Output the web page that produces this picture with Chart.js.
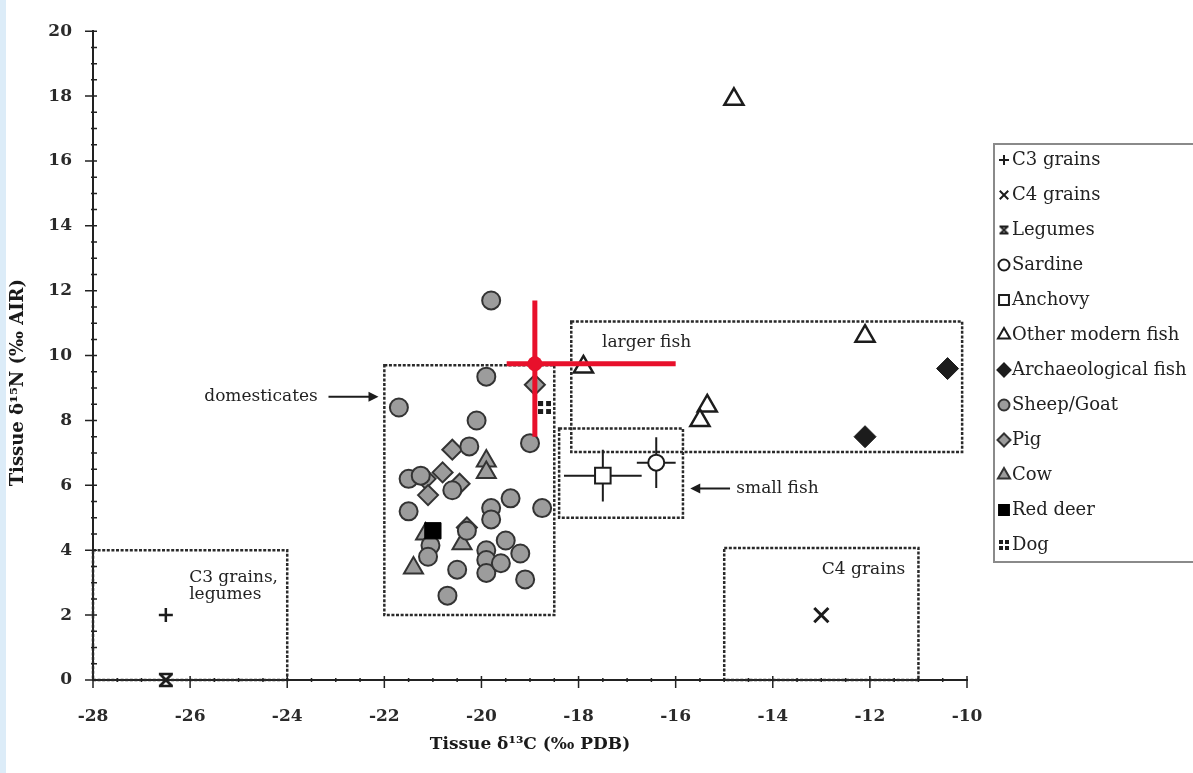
<!DOCTYPE html>
<html>
<head>
<meta charset="utf-8">
<script src="https://cdn.jsdelivr.net/npm/chart.js"></script>
<style>
  html, body { margin: 0; padding: 0; background: #fff; }
  #strip { position: absolute; left: 0; top: 0; width: 6px; height: 773px; background: #dcecf8; }
  #wrap { position: absolute; left: 0; top: 0; width: 1193px; height: 773px; }
</style>
</head>
<body>
<div id="wrap"><canvas id="c" width="1193" height="773"></canvas></div>
<div id="strip"></div>
<script>
// series names (legend order)
const seriesNames = ['C3 grains', 'C4 grains', 'Legumes', 'Sardine', 'Anchovy', 'Other modern fish',
  'Archaeological fish', 'Sheep/Goat', 'Pig', 'Cow', 'Red deer', 'Dog'];

// values: d13C (x), d15N (y)
const c3X = [-26.5], c3Y = [2.0];
const c4X = [-13.0], c4Y = [2.0];
const legX = [-26.5], legY = [0.0];
const sardineX = [-16.4], sardineY = [6.7], sardineXErr = [0.4], sardineYErr = [0.78];
const anchovyX = [-17.5], anchovyY = [6.3], anchovyXErr = [0.8], anchovyYErr = [0.8];
const otherFishX = [-14.8, -17.9, -12.1, -15.35, -15.5];
const otherFishY = [17.9, 9.65, 10.6, 8.45, 8.0];
const archFishX = [-10.4, -12.1];
const archFishY = [9.6, 7.5];
const sheepX = [-19.8, -19.9, -21.7, -20.1, -20.25, -19.0, -21.5, -21.5, -19.4, -19.8, -19.8, -18.75,
  -21.05, -21.1, -20.5, -20.7, -19.9, -19.9, -19.9, -19.5, -19.6, -19.2, -19.1, -20.3, -21.25, -20.6];
const sheepY = [11.7, 9.35, 8.4, 8.0, 7.2, 7.3, 6.2, 5.2, 5.6, 5.3, 4.95, 5.3,
  4.15, 3.8, 3.4, 2.6, 4.0, 3.7, 3.3, 4.3, 3.6, 3.9, 3.1, 4.6, 6.3, 5.85];
const pigX = [-18.9, -20.6, -21.15, -20.8, -21.1, -20.45, -20.3];
const pigY = [9.1, 7.1, 6.2, 6.4, 5.7, 6.05, 4.7];
const cowX = [-19.9, -19.9, -21.4, -20.4, -21.15];
const cowY = [6.75, 6.4, 3.45, 4.2, 4.5];
const deerX = [-21.0], deerY = [4.6];
const dogX = [-18.7], dogY = [8.4];

// red overlay (mean with range)
const redX = [-18.9], redY = [9.75];
const redXRange = [-19.48, -16.0], redYRange = [7.5, 11.7];

// dashed regions: [xMin, xMax, yMin, yMax]
const regionBounds = [[-28, -24, 0, 4], [-22, -18.5, 2, 9.7], [-18.15, -10.1, 7.03, 11.05],
  [-18.4, -15.85, 5, 7.75], [-15, -11, 0, 4.07]];

// axis ticks
const xTicks = [-28, -26, -24, -22, -20, -18, -16, -14, -12, -10];
const yTicks = [0, 2, 4, 6, 8, 10, 12, 14, 16, 18, 20];

const INK = '#1c1c1c';
const GREY = '#9c9c9c';
const SERIF = '"DejaVu Serif", serif';

function pts(xs, ys) { return xs.map((x, i) => ({x: x, y: ys[i]})); }

function legumesMark(s) {
  const c = document.createElement('canvas');
  c.width = s; c.height = s;
  const g = c.getContext('2d');
  g.strokeStyle = INK; g.lineWidth = Math.max(2, s / 6);
  g.beginPath();
  g.moveTo(2, 2); g.lineTo(s - 2, s - 2);
  g.moveTo(s - 2, 2); g.lineTo(2, s - 2);
  g.moveTo(1, 2); g.lineTo(s - 1, 2);
  g.moveTo(1, s - 2); g.lineTo(s - 1, s - 2);
  g.stroke();
  return c;
}

function dogMark(s) {
  const c = document.createElement('canvas');
  c.width = s; c.height = s;
  const g = c.getContext('2d');
  g.fillStyle = INK;
  const q = Math.round(s * 0.42);
  g.fillRect(0, 0, q, q); g.fillRect(s - q, 0, q, q);
  g.fillRect(0, s - q, q, q); g.fillRect(s - q, s - q, q, q);
  return c;
}

const legumesBig = legumesMark(16), legumesSmall = legumesMark(11);
const dogBig = dogMark(13), dogSmall = dogMark(10);

const datasets = [
  {label: seriesNames[0], data: pts(c3X, c3Y), pointStyle: 'cross', pointRadius: 7, borderColor: INK, borderWidth: 2.5},
  {label: seriesNames[1], data: pts(c4X, c4Y), pointStyle: 'crossRot', pointRadius: 10, borderColor: INK, borderWidth: 3},
  {label: seriesNames[2], data: pts(legX, legY), pointStyle: legumesBig, pointRadius: 8, borderColor: INK, borderWidth: 2},
  {label: seriesNames[3], data: pts(sardineX, sardineY), pointStyle: 'circle', pointRadius: 8, backgroundColor: '#fff', borderColor: INK, borderWidth: 2},
  {label: seriesNames[4], data: pts(anchovyX, anchovyY), pointStyle: 'rect', pointRadius: 11, backgroundColor: '#fff', borderColor: INK, borderWidth: 2},
  {label: seriesNames[5], data: pts(otherFishX, otherFishY), pointStyle: 'triangle', pointRadius: 11, backgroundColor: '#fff', borderColor: INK, borderWidth: 2.5},
  {label: seriesNames[6], data: pts(archFishX, archFishY), pointStyle: 'rectRot', pointRadius: 11, backgroundColor: INK, borderColor: INK, borderWidth: 1},
  {label: seriesNames[7], data: pts(sheepX, sheepY), pointStyle: 'circle', pointRadius: 9, backgroundColor: GREY, borderColor: '#333', borderWidth: 2},
  {label: seriesNames[8], data: pts(pigX, pigY), pointStyle: 'rectRot', pointRadius: 10, backgroundColor: GREY, borderColor: '#333', borderWidth: 2},
  {label: seriesNames[9], data: pts(cowX, cowY), pointStyle: 'triangle', pointRadius: 11, backgroundColor: GREY, borderColor: '#333', borderWidth: 2},
  {label: seriesNames[10], data: pts(deerX, deerY), pointStyle: 'rect', pointRadius: 11.5, backgroundColor: '#000', borderColor: '#000', borderWidth: 1, order: -1},
  {label: seriesNames[11], data: pts(dogX, dogY), pointStyle: dogBig, pointRadius: 7, borderColor: INK, borderWidth: 1, order: -1}
];
datasets.forEach(d => { d.pointHoverRadius = d.pointRadius; d.showLine = false; d.clip = false; });

const legendMarks = {2: legumesSmall, 11: dogSmall};

function dashedRect(ctx, x0, y0, x1, y1) {
  ctx.save();
  ctx.strokeStyle = '#2a2a2a';
  ctx.lineWidth = 2.5;
  ctx.setLineDash([3, 1.6]);
  ctx.strokeRect(x0, y0, x1 - x0, y1 - y0);
  ctx.restore();
}

function arrow(ctx, x0, y, x1) {
  const dir = Math.sign(x1 - x0);
  ctx.save();
  ctx.strokeStyle = INK; ctx.fillStyle = INK; ctx.lineWidth = 2;
  ctx.beginPath(); ctx.moveTo(x0, y); ctx.lineTo(x1 - dir * 4, y); ctx.stroke();
  ctx.beginPath(); ctx.moveTo(x1, y); ctx.lineTo(x1 - dir * 10, y - 5); ctx.lineTo(x1 - dir * 10, y + 5); ctx.closePath(); ctx.fill();
  ctx.restore();
}

const notesPlugin = {
  id: 'notes',
  beforeDatasetsDraw(chart) {
    const ctx = chart.ctx, xs = chart.scales.x, ys = chart.scales.y;
    regionBounds.forEach(b => {
      dashedRect(ctx, xs.getPixelForValue(b[0]), ys.getPixelForValue(b[3]),
        xs.getPixelForValue(b[1]), ys.getPixelForValue(b[2]));
    });
    ctx.save();
    ctx.fillStyle = '#222';
    ctx.font = '17px ' + SERIF;
    ctx.textBaseline = 'middle';
    ctx.textAlign = 'right';
    ctx.fillText('domesticates', xs.getPixelForValue(-23.37), ys.getPixelForValue(8.73));
    ctx.textAlign = 'center';
    ctx.fillText('larger fish', xs.getPixelForValue(-16.6), ys.getPixelForValue(10.4));
    ctx.textAlign = 'left';
    ctx.fillText('small fish', xs.getPixelForValue(-14.75), ys.getPixelForValue(5.9));
    ctx.fillText('C3 grains,', xs.getPixelForValue(-26.02), ys.getPixelForValue(3.17));
    ctx.fillText('legumes', xs.getPixelForValue(-26.02), ys.getPixelForValue(2.62));
    ctx.fillText('C4 grains', xs.getPixelForValue(-12.99), ys.getPixelForValue(3.41));
    ctx.restore();
    arrow(ctx, xs.getPixelForValue(-23.15), ys.getPixelForValue(8.73), xs.getPixelForValue(-22.12));
    arrow(ctx, xs.getPixelForValue(-14.88), ys.getPixelForValue(5.9), xs.getPixelForValue(-15.7));

    // error bars for sardine and anchovy
    ctx.save();
    ctx.strokeStyle = INK; ctx.lineWidth = 2;
    [[sardineX, sardineY, sardineXErr, sardineYErr], [anchovyX, anchovyY, anchovyXErr, anchovyYErr]].forEach(s => {
      s[0].forEach((x, i) => {
        const y = s[1][i];
        ctx.beginPath();
        ctx.moveTo(xs.getPixelForValue(x - s[2][i]), ys.getPixelForValue(y));
        ctx.lineTo(xs.getPixelForValue(x + s[2][i]), ys.getPixelForValue(y));
        ctx.moveTo(xs.getPixelForValue(x), ys.getPixelForValue(y - s[3][i]));
        ctx.lineTo(xs.getPixelForValue(x), ys.getPixelForValue(y + s[3][i]));
        ctx.stroke();
      });
    });
    ctx.restore();
  },
  afterDatasetsDraw(chart) {
    const ctx = chart.ctx, xs = chart.scales.x, ys = chart.scales.y;
    ctx.save();
    ctx.strokeStyle = '#e8102b'; ctx.fillStyle = '#e8102b'; ctx.lineWidth = 5;
    const cx = xs.getPixelForValue(redX[0]), cy = ys.getPixelForValue(redY[0]);
    ctx.beginPath();
    ctx.moveTo(xs.getPixelForValue(redXRange[0]), cy); ctx.lineTo(xs.getPixelForValue(redXRange[1]), cy);
    ctx.moveTo(cx, ys.getPixelForValue(redYRange[0])); ctx.lineTo(cx, ys.getPixelForValue(redYRange[1]));
    ctx.stroke();
    ctx.beginPath(); ctx.arc(cx, cy, 7.5, 0, Math.PI * 2); ctx.fill();
    ctx.restore();
  },
  afterDraw(chart) {
    const ctx = chart.ctx, xs = chart.scales.x, ys = chart.scales.y;
    const a = chart.chartArea;
    // tick marks crossing the axes, minor every 0.5
    ctx.save();
    ctx.strokeStyle = '#222'; ctx.lineWidth = 1.5;
    ctx.beginPath();
    for (let v = xs.min; v <= xs.max + 1e-9; v += 0.5) {
      const px = xs.getPixelForValue(v);
      const major = xTicks.includes(v);
      ctx.moveTo(px, a.bottom - (major ? 4 : 2)); ctx.lineTo(px, a.bottom + (major ? 8 : 2));
    }
    for (let v = ys.min; v <= ys.max + 1e-9; v += 0.5) {
      const py = ys.getPixelForValue(v);
      const major = yTicks.includes(v);
      ctx.moveTo(a.left - (major ? 8 : 2), py); ctx.lineTo(a.left + 4, py);
    }
    ctx.stroke();
    ctx.restore();

    // legend box
    ctx.save();
    ctx.strokeStyle = '#8a8a8a'; ctx.lineWidth = 2;
    ctx.strokeRect(994, 144, 220, 418);
    ctx.font = '18px ' + SERIF;
    ctx.textBaseline = 'middle';
    ctx.textAlign = 'left';
    chart.data.datasets.forEach((d, i) => {
      const y = 160 + i * 35.0;
      const mx = 1004;
      ctx.save();
      ctx.fillStyle = d.backgroundColor || INK;
      ctx.strokeStyle = d.borderColor || INK;
      if (legendMarks[i]) {
        const m = legendMarks[i];
        ctx.drawImage(m, mx - m.width / 2, y - m.height / 2);
      } else if (Chart.helpers && Chart.helpers.drawPoint) {
        const r = {cross: 5, crossRot: 6, rect: 7, rectRot: 6.5, triangle: 7, circle: 5.5}[d.pointStyle] || 5;
        Chart.helpers.drawPoint(ctx, {pointStyle: d.pointStyle, radius: r, rotation: 0,
          borderWidth: Math.min(2.2, d.borderWidth)}, mx, y);
      }
      ctx.restore();
      ctx.fillStyle = '#222';
      ctx.fillText(d.label, 1012, y);
    });
    ctx.restore();
  }
};

Chart.defaults.font.family = SERIF;
Chart.defaults.color = '#222';

new Chart(document.getElementById('c'), {
  type: 'scatter',
  data: {datasets: datasets},
  plugins: [notesPlugin],
  options: {
    responsive: false,
    animation: false,
    events: [],
    layout: {padding: {top: 18, right: 226, left: 0, bottom: 0}},
    plugins: {legend: {display: false}, tooltip: {enabled: false}},
    scales: {
      x: {
        type: 'linear', min: -28, max: -10,
        afterFit: s => { s.height = 93; },
        afterBuildTicks: s => { s.ticks = xTicks.map(v => ({value: v})); },
        grid: {display: false, drawTicks: false},
        border: {display: true, color: '#222', width: 2},
        ticks: {padding: 26, color: '#2a2a2a', font: {size: 17, weight: 'bold'}},
        title: {display: true, text: 'Tissue δ¹³C (‰ PDB)', color: '#1a1a1a',
          font: {size: 17, weight: 'bold'}, padding: {top: 0, bottom: 18}}
      },
      y: {
        type: 'linear', min: 0, max: 20,
        afterFit: s => { s.width = 93; },
        afterBuildTicks: s => { s.ticks = yTicks.map(v => ({value: v})); },
        grid: {display: false, drawTicks: false},
        border: {display: true, color: '#222', width: 2},
        ticks: {padding: 21, color: '#2a2a2a', font: {size: 17, weight: 'bold'}},
        title: {display: true, text: 'Tissue δ¹⁵N (‰ AIR)\u2003\u2003\u2003', color: '#1a1a1a',
          font: {size: 18, weight: 'bold'}, padding: {top: 8, bottom: 0}}
      }
    }
  }
});
</script>
</body>
</html>
